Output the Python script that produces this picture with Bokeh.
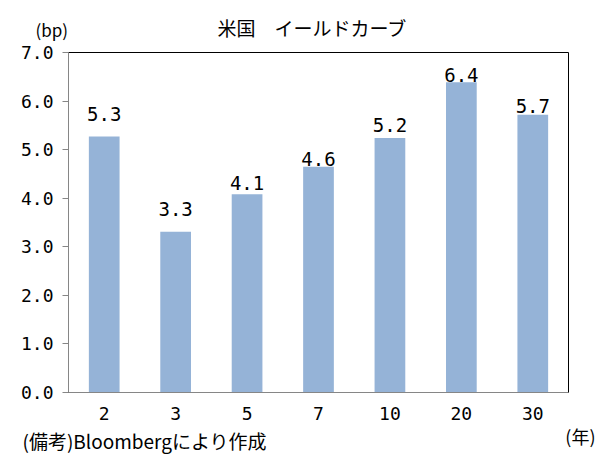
from bokeh.plotting import figure
from bokeh.models import ColumnDataSource, LabelSet, Label, FixedTicker, Range1d
from bokeh.layouts import column
from bokeh.core.properties import value
from bokeh.embed import file_html
from bokeh.resources import INLINE

maturities = ["2", "3", "5", "7", "10", "20", "30"]
yields = [5.27, 3.31, 4.08, 4.65, 5.24, 6.39, 5.72]
bar_labels = ["5.3", "3.3", "4.1", "4.6", "5.2", "6.4", "5.7"]
label_nudge = [16, 16, 4, 1, 6, 0, 2]
y_ticks = [0, 1, 2, 3, 4, 5, 6, 7]
y_tick_labels = ["0.0", "1.0", "2.0", "3.0", "4.0", "5.0", "6.0", "7.0"]

title_text = "米国　イールドカーブ"
unit_text = "(bp)"
source_text = "(備考)Bloombergにより作成"
xunit_text = "(年)"

CJK = "Noto Sans CJK JP"
NUM = "DejaVu Sans Mono"
W = 600
HEAD_H = 42
FOOT_H = 33


def text_panel(h):
    f = figure(width=W, height=h, x_range=Range1d(0, W), y_range=Range1d(0, h),
               output_backend="svg", toolbar_location=None, min_border=0,
               frame_align=False)
    f.axis.visible = False
    f.grid.visible = False
    f.outline_line_color = None
    f.background_fill_color = "white"
    f.border_fill_color = "white"
    return f


def add_text(f, txt, x, y, size, align="left"):
    f.add_layout(Label(x=x, y=y, text=txt, text_font=CJK, text_font_size=size,
                       text_align=align, text_baseline="middle", text_color="black"))


head = text_panel(HEAD_H)
add_text(head, title_text, 312, HEAD_H - 27, "19px", align="center")
add_text(head, unit_text, 35, HEAD_H - 29, "17px")

foot = text_panel(FOOT_H)
add_text(foot, source_text, 22, FOOT_H - 18, "19px")
add_text(foot, xunit_text, 595, FOOT_H - 13, "18px", align="right")

src = ColumnDataSource(dict(cat=maturities, val=yields, lab=bar_labels, nudge=label_nudge))

p = figure(x_range=maturities, y_range=(0, 7), width=W, height=380,
           output_backend="svg", toolbar_location=None, frame_align=False,
           min_border_left=68, min_border_right=32,
           min_border_top=10, min_border_bottom=30)
p.background_fill_color = "white"
p.border_fill_color = "white"
p.outline_line_color = "black"
p.outline_line_width = 1
p.xgrid.visible = False
p.ygrid.visible = False

p.vbar(x="cat", top="val", width=0.43, source=src,
       fill_color="#95B3D7", line_color=None)

p.add_layout(LabelSet(x="cat", y="val", text="lab", source=src,
                      y_offset="nudge", text_align="center", text_baseline="bottom",
                      text_font=value(NUM), text_font_size=value("19px"),
                      text_color="black"))

ax = p.yaxis[0]
ax.ticker = FixedTicker(ticks=y_ticks)
ax.major_label_overrides = {t: l for t, l in zip(y_ticks, y_tick_labels)}
ax.axis_line_color = "#868686"
ax.major_tick_line_color = "#868686"
ax.major_tick_out = 6
ax.major_tick_in = 0
ax.minor_tick_line_color = None
ax.major_label_standoff = 9
ax.major_label_text_font = NUM
ax.major_label_text_font_size = "18px"
ax.major_label_text_color = "black"

xa = p.xaxis[0]
xa.axis_line_color = "#868686"
xa.major_tick_line_color = None
xa.minor_tick_line_color = None
xa.major_label_standoff = 8
xa.major_label_text_font = NUM
xa.major_label_text_font_size = "18px"
xa.major_label_text_color = "black"

layout = column(head, p, foot, spacing=0)

open("out.html", "w").write(file_html(layout, INLINE))
